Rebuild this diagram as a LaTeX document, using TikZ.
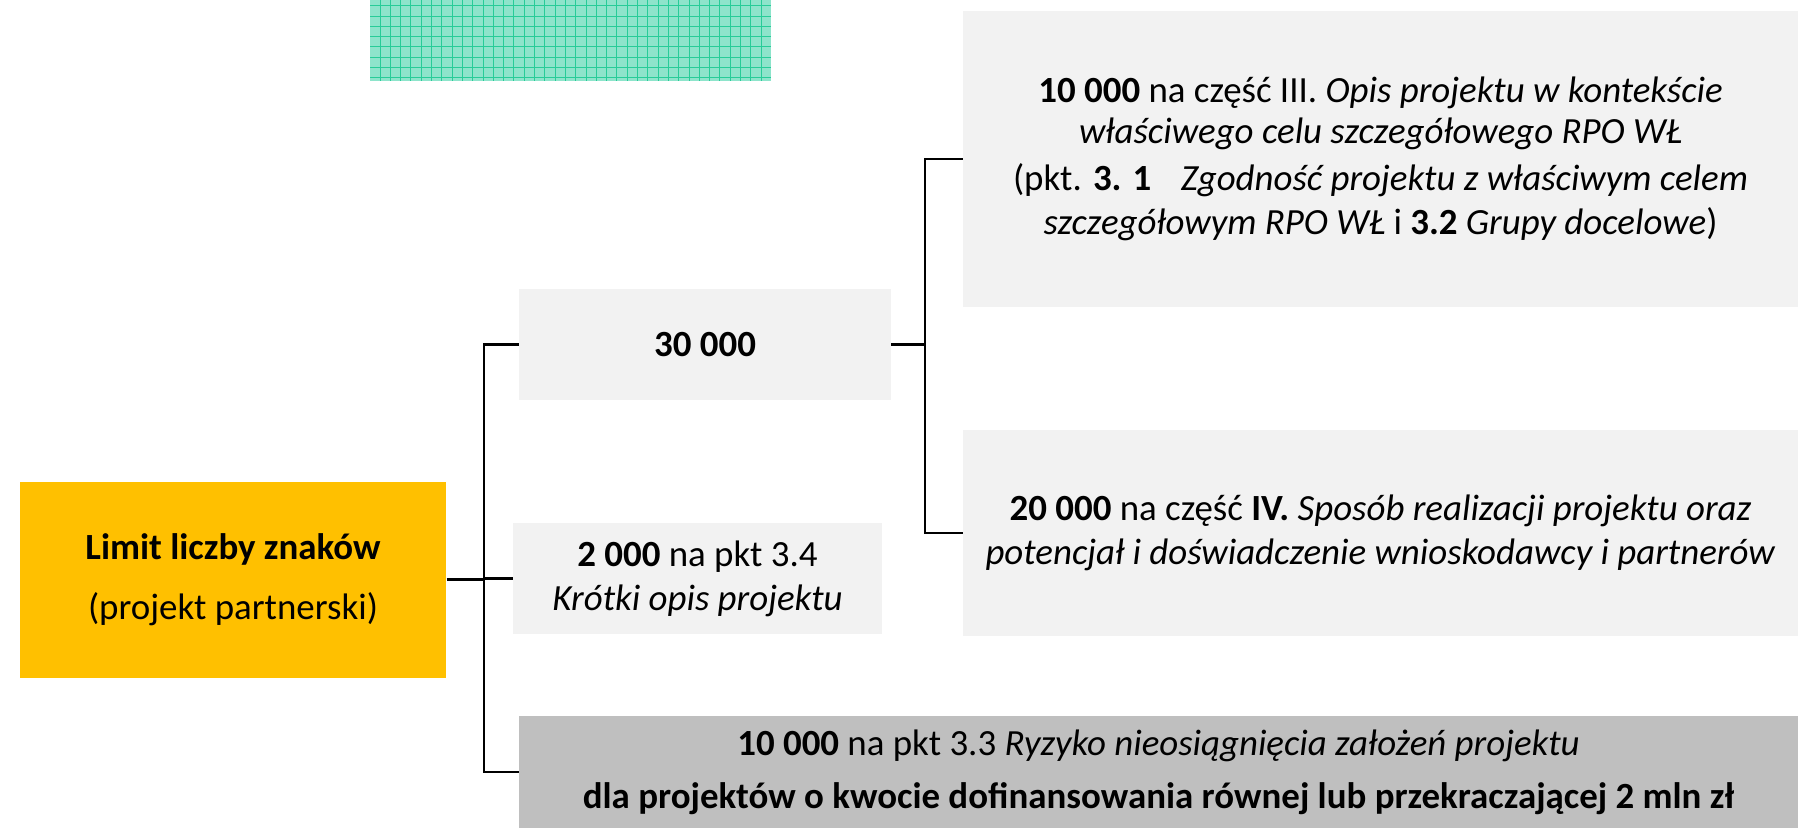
\documentclass[tikz,border=0pt]{standalone}
\usepackage{fontspec}
\setmainfont{Carlito}
\definecolor{gridfill}{RGB}{142,228,203}
\definecolor{gridline}{RGB}{40,204,152}
\definecolor{boxlight}{RGB}{242,242,242}
\definecolor{boxdark}{RGB}{191,191,191}
\definecolor{limitfill}{RGB}{255,192,0}
\begin{document}
\begin{tikzpicture}[x=0.02cm,y=-0.02cm,
  box/.style={fill=boxlight, align=center, inner sep=0pt, font=\fontsize{21}{25}\selectfont},
  link/.style={line width=1.5pt}]
\useasboundingbox (0,0) rectangle (1798,834);
\fill[gridfill] (370,0) rectangle (771,81);
\foreach \x in {380,390.3,...,771} \draw[gridline, line width=0.5pt] (\x,0)--(\x,81);
\foreach \y in {5.7,16,...,81} \draw[gridline, line width=0.5pt] (370,\y)--(771,\y);
\node[box, fill=limitfill, minimum width=8.53cm, minimum height=3.92cm] (limit) at (233,579.6)
  {\textbf{Limit liczby znaków}\\[9pt](projekt partnerski)};
\node[box, minimum width=7.44cm, minimum height=2.22cm] (k30) at (705,344.5) {\textbf{30 000}};
\node[box, minimum width=7.38cm, minimum height=2.22cm] (k2) at (697.5,578.5)
  {\textbf{2 000} na pkt 3.4\\\textit{Krótki opis projektu}};
\node[box, fill=boxdark, minimum width=25.58cm, minimum height=2.24cm] (risk) at (1158.5,772)
  {\textbf{10 000} na pkt 3.3 \textit{Ryzyko nieosiągnięcia założeń projektu}\\[5pt]
   \textbf{dla projektów o kwocie dofinansowania równej lub przekraczającej 2 mln zł}};
\node[box, minimum width=16.7cm, minimum height=5.91cm] (p3) at (1380.5,159)
  {\textbf{10 000} na część III. \textit{Opis projektu w kontekście}\\[-2pt]
   \textit{właściwego celu szczegółowego RPO WŁ}\\[2pt]
   (pkt. \textbf{3. 1}\hspace{0.8em}\textit{Zgodność projektu z właściwym celem}\\
   \textit{szczegółowym RPO WŁ} i \textbf{3.2} \textit{Grupy docelowe})};
\node[box, minimum width=16.7cm, minimum height=4.12cm] (p4) at (1380.5,533)
  {\textbf{20 000} na część \textbf{IV.} \textit{Sposób realizacji projektu oraz}\\
   \textit{potencjał i doświadczenie wnioskodawcy i partnerów}};
\coordinate (j1) at (484,579.6);
\coordinate (j2) at (925,344.5);
\draw[link] (limit.east) -- (j1);
\draw[link] (k30.west) -| (j1) |- (risk.west);
\draw[link] (j1 |- k2.west) -- (k2.west);
\draw[link] (k30.east) -- (j2);
\draw[link] (p3.west) -| (j2) |- (p4.west);
\end{tikzpicture}
\end{document}
